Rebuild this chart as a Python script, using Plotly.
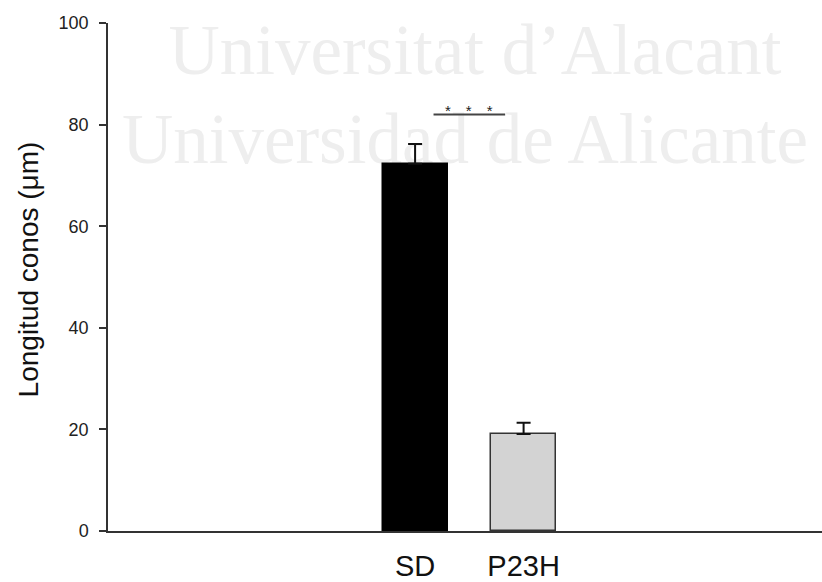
import plotly.graph_objects as go

# ---- data ----
categories = ["SD", "P23H"]
means = [72.3, 19.1]
sem = [3.9, 2.2]
bar_colors = ["#000000", "#d3d3d3"]
bar_line_colors = ["#000000", "#333333"]
y_ticks = [0, 20, 40, 60, 80, 100]
sig_pair = [0.17, 0.83]   # bracket span (category units)
sig_level = 82.0
sig_text = "*\u2003*\u2003*"
watermark = ["Universitat d\u2019Alacant", "Universidad de Alicante"]

xpos = list(range(len(categories)))

fig = go.Figure()
fig.add_trace(go.Bar(
    x=xpos, y=means, width=0.6,
    marker=dict(color=bar_colors, line=dict(color=bar_line_colors, width=1.5)),
    error_y=dict(type="data", array=sem, arrayminus=[0] * len(sem), symmetric=False,
                 color="#111111", thickness=2, width=7),
    showlegend=False,
))
fig.add_trace(go.Scatter(
    x=sig_pair, y=[sig_level, sig_level], mode="lines",
    line=dict(color="#444444", width=2), showlegend=False, hoverinfo="skip",
))

fig.add_annotation(x=sum(sig_pair) / 2, y=sig_level, xref="x", yref="y",
                   text=sig_text, showarrow=False, yanchor="bottom", yshift=-7,
                   font=dict(size=15, color="#222222", family="Liberation Sans"))

# axis title
fig.add_annotation(x=-0.112, y=0.515, xref="paper", yref="paper",
                   text="Longitud conos (\u03bcm)", textangle=-90, showarrow=False,
                   xanchor="center", yanchor="middle",
                   font=dict(size=28, color="#111111", family="Liberation Sans"))

# watermark behind the bars
wm_pos = [(0.514, 0.963), (0.5, 0.787)]
for txt, (cx, cy) in zip(watermark, wm_pos):
    fig.add_shape(type="rect", xref="paper", yref="paper",
                  x0=cx - 0.3, x1=cx + 0.3, y0=cy - 0.05, y1=cy + 0.05,
                  line=dict(width=0), fillcolor="rgba(0,0,0,0)", layer="below",
                  label=dict(text=txt, textposition="middle center",
                             font=dict(size=71, color="#eeeeee", family="Liberation Serif")))

fig.update_layout(
    template="none",
    width=822, height=582,
    margin=dict(l=108, r=0, t=23, b=51, autoexpand=False),
    paper_bgcolor="white", plot_bgcolor="white",
    font=dict(family="Liberation Sans", color="#222222"),
    bargap=0,
)
fig.update_xaxes(
    range=[-2.83, 3.75], tickvals=xpos, ticktext=categories,
    showline=True, linecolor="#333333", linewidth=1.5, ticks="",
    showgrid=False, zeroline=False, tickfont=dict(size=29, color="#111111"),
    ticklabelstandoff=8, automargin=False,
)
fig.update_yaxes(
    range=[0, 100], tickvals=y_ticks,
    showline=True, linecolor="#333333", linewidth=1.5,
    ticks="outside", ticklen=7, tickwidth=1.5, tickcolor="#333333",
    showgrid=False, zeroline=False, tickfont=dict(size=18, color="#222222"),
    ticklabelstandoff=7, automargin=False,
)

fig.write_html("out.html")
